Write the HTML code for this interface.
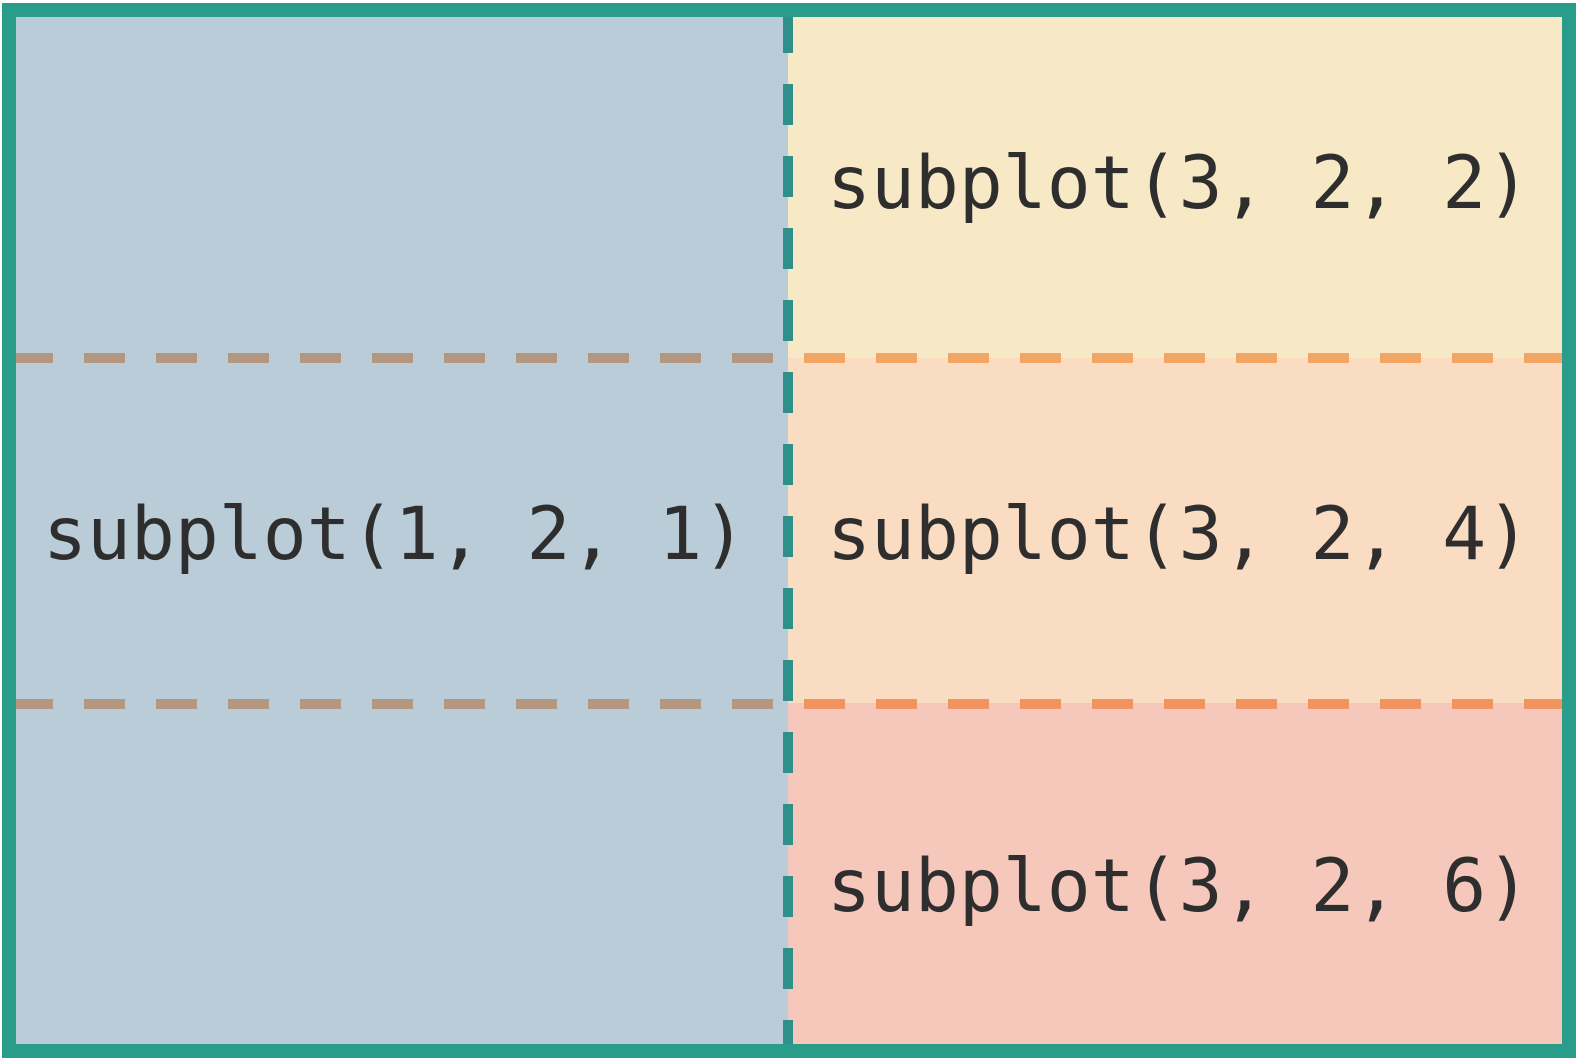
<!DOCTYPE html>
<html><head><style>html,body{margin:0;padding:0;background:#fff}svg{display:block}</style></head>
<body>
<svg width="1581" height="1058" viewBox="0 0 1581 1058" xmlns="http://www.w3.org/2000/svg">
<rect x="16" y="17" width="772" height="1027" fill="#b9ccd8"/>
<rect x="788" y="17" width="774" height="341" fill="#f7e9c6"/>
<rect x="788" y="358" width="774" height="345" fill="#fadcc3"/>
<rect x="788" y="703" width="774" height="341" fill="#f6c8bb"/>
<line x1="12" y1="358" x2="788" y2="358" stroke="#b39781" stroke-width="10" stroke-dasharray="41 31"/>
<line x1="12" y1="704" x2="788" y2="704" stroke="#b39781" stroke-width="10" stroke-dasharray="41 31"/>
<line x1="804" y1="358" x2="1562" y2="358" stroke="#f2a664" stroke-width="10" stroke-dasharray="41 31"/>
<line x1="804" y1="704" x2="1562" y2="704" stroke="#f0955f" stroke-width="10" stroke-dasharray="41 31"/>
<line x1="788" y1="12" x2="788" y2="1044" stroke="#2f8f8a" stroke-width="10" stroke-dasharray="41 31"/>
<rect x="9" y="10" width="1560" height="1041" fill="none" stroke="#2a9d8a" stroke-width="14"/>
<g font-family="'DejaVu Sans Mono','Liberation Mono',monospace" font-size="73" fill="#2e2e2e">
<text x="827" y="208">subplot(3, 2, 2)</text>
<text x="827" y="559">subplot(3, 2, 4)</text>
<text x="827" y="911">subplot(3, 2, 6)</text>
<text x="43" y="559">subplot(1, 2, 1)</text>
</g>
</svg>
</body></html>
